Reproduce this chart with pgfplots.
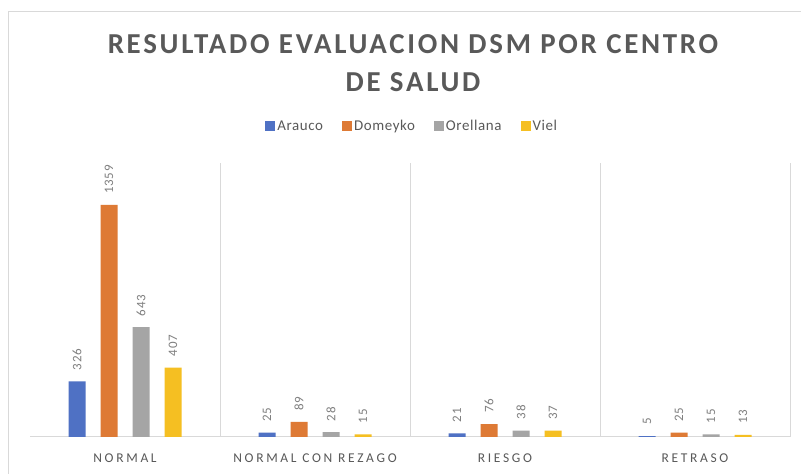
\documentclass[border=0pt]{standalone}
\usepackage{pgfplots}
\pgfplotsset{compat=1.18}
\usepackage{fontspec}
\setmainfont{Carlito}
\newfontfamily\catfont[LetterSpace=20]{Carlito}
\newfontfamily\titlefont[LetterSpace=9.5]{Carlito}
\newfontfamily\labfont[LetterSpace=6]{Carlito}
\newfontfamily\legfont[LetterSpace=4]{Carlito}
\definecolor{arauco}{HTML}{4F71C4}
\definecolor{domeyko}{HTML}{DE7A35}
\definecolor{orellana}{HTML}{A5A5A5}
\definecolor{viel}{HTML}{F5BF22}
\definecolor{titlegray}{HTML}{595959}
\definecolor{labgray}{HTML}{7F7F7F}
\definecolor{linegray}{HTML}{D9D9D9}
\begin{document}
\begin{tikzpicture}[x=1bp,y=1bp]
\useasboundingbox (0,0) rectangle (801,474);
\clip (0,0) rectangle (801,474);
\fill[white] (0,0) rectangle (801,474);
\draw[linegray, line width=1bp] (8,-20) rectangle (830,462);
\node[font=\titlefont\bfseries\fontsize{29}{34}\selectfont, text=titlegray] at (413,430) {RESULTADO EVALUACION DSM POR CENTRO};
\node[font=\titlefont\bfseries\fontsize{29}{34}\selectfont, text=titlegray] at (413,392) {DE SALUD};
\begin{axis}[
  at={(30bp,37bp)}, anchor=south west,
  scale only axis, width=760bp, height=274bp,
  ybar=15bp, bar width=17bp,
  xmin=-0.5, xmax=3.5, ymin=0, ymax=1605,
  xtick={0,1,2,3},
  xticklabels={NORMAL, NORMAL CON REZAGO, RIESGO, RETRASO},
  xticklabel style={font=\catfont\fontsize{13.5}{15}\selectfont, text=titlegray, yshift=-11bp},
  axis x line=bottom, axis y line=none,
  axis line style={draw=linegray, line width=1bp, -},
  x tick style={draw=none},
  extra x ticks={0.5,1.5,2.5,3.5},
  extra x tick labels={},
  extra x tick style={grid=major, major grid style={draw=linegray, line width=1bp}},
  /pgf/number format/assume math mode=true,
  /pgf/number format/1000 sep={},
  nodes near coords,
  nodes near coords style={rotate=90, anchor=west, inner xsep=11bp, font=\labfont\fontsize{13}{15}\selectfont, text=labgray},
  legend style={at={(0.503,1.135)}, anchor=center, draw=none, fill=none,
    legend columns=-1, font=\legfont\fontsize{15}{17}\selectfont, text=titlegray,
    /tikz/every even column/.append style={column sep=17bp},
    nodes={inner xsep=2bp}},
  legend image code/.code={\fill[#1] (0bp,-5bp) rectangle (10bp,5bp);},
]
\addplot[fill=arauco, draw=none] coordinates {(0,326) (1,25) (2,21) (3,5)};
\addplot[fill=domeyko, draw=none] coordinates {(0,1359) (1,89) (2,76) (3,25)};
\addplot[fill=orellana, draw=none] coordinates {(0,643) (1,28) (2,38) (3,15)};
\addplot[fill=viel, draw=none] coordinates {(0,407) (1,15) (2,37) (3,13)};
\legend{Arauco, Domeyko, Orellana, Viel}
\end{axis}
\end{tikzpicture}
\end{document}
